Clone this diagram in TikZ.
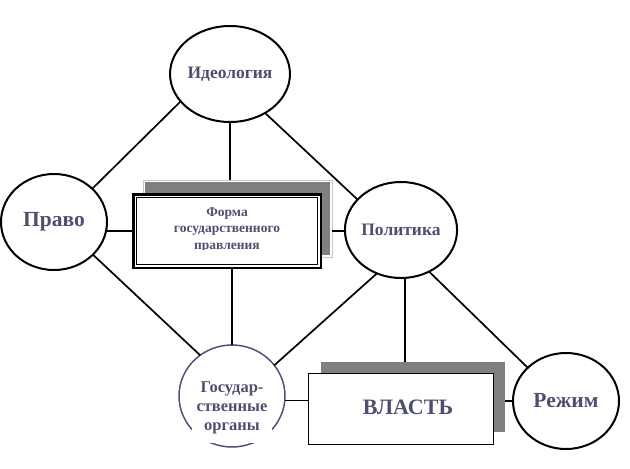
\documentclass[tikz,border=0pt]{standalone}
\usepackage{fontspec}
\setmainfont{Liberation Serif}
\usetikzlibrary{shapes.geometric}
\definecolor{ink}{RGB}{78,78,112}
\definecolor{boxgray}{RGB}{128,128,128}
\definecolor{rim}{RGB}{82,82,118}

\begin{document}
\begin{tikzpicture}[x=1pt,y=-1pt,
  oval/.style={ellipse, draw, line width=2pt, minimum width=106pt, minimum height=96pt, inner sep=0pt, outer sep=0pt, text=ink},
  link/.style={line width=1.7pt},
  plate/.style={inner sep=0pt, outer sep=0pt}]
\useasboundingbox (0,0) rectangle (630,469);
% circles
\node[oval, font=\bfseries\fontsize{17.5}{20}\selectfont] (ideo) at (230,74) {Идеология};
\node[oval, font=\bfseries\fontsize{21.5}{24}\selectfont] (pravo) at (54,222) {Право};
\node[oval, font=\bfseries\fontsize{17.5}{20}\selectfont] (pol) at (401,230) {Политика};
\node[oval, font=\bfseries\fontsize{21.5}{24}\selectfont] (reg) at (566,401) {Режим};
\node[oval, draw=rim, line width=1.5pt, minimum height=102pt] (gos) at (232,396) {};
\node[plate, fill=white, minimum width=80pt, minimum height=70pt, text=ink, align=center,
  font=\bfseries\fontsize{16.5}{19}\selectfont] (gostxt) at (232,408) {Государ-\\ственные\\органы};
% form box
\node[plate, draw=gray!45, line width=1pt, minimum width=189pt, minimum height=77pt] (formsh) at (237.5,218.5) {};
\fill[boxgray] ([shift={(2pt,-2pt)}]formsh.north west) rectangle ([shift={(-2pt,2pt)}]formsh.south east);
\node[plate, draw, fill=white, line width=2.5pt, minimum width=187.5pt, minimum height=73.5pt] (form) at (227,231) {};
\draw[line width=1.2pt] ([shift={(3.5pt,-3.5pt)}]form.north west) rectangle ([shift={(-3.5pt,3.5pt)}]form.south east);
\begin{scope}
\clip (140,200) rectangle (315,249);
\node[text=ink, align=center, font=\bfseries\fontsize{13.5}{16.5}\selectfont] (formtxt) at (227,230) {Форма\\государственного\\правления};
\end{scope}
% power box
\node[plate, fill=boxgray, minimum width=184pt, minimum height=70pt] (vlsh) at (413,397) {};
\node[plate, draw, fill=white, line width=1.5pt, minimum width=185pt, minimum height=71pt] (vl) at (401,409) {};
\node[text=ink, font=\bfseries\fontsize{22}{26}\selectfont] (vltxt) at (408,407) {ВЛАСТЬ};
% links
\draw[link] (ideo.209) -- (pravo.41);
\draw[link] (ideo.312) -- (pol.145);
\draw[link] (ideo.south) -- (ideo.south |- formsh.north);
\draw[link] (form.west) -- (form.west -| pravo.east);
\draw[link] (pravo.320) -- (gos.128);
\draw[link] (gos.north) -- (gos.north |- form.south);
\draw[link] (form.east -| formsh.east) -- (form.east -| pol.west);
\draw[link] (pol.241) -- (gos.36);
\draw[link] (pol.-85) -- (pol.-85 |- vlsh.north);
\draw[link] (pol.304) -- (reg.139);
\draw[link] (gos.-5) -- (gos.-5 -| vl.west);
\draw[link] (reg.west) -- (reg.west -| vlsh.east);
\end{tikzpicture}
\end{document}
